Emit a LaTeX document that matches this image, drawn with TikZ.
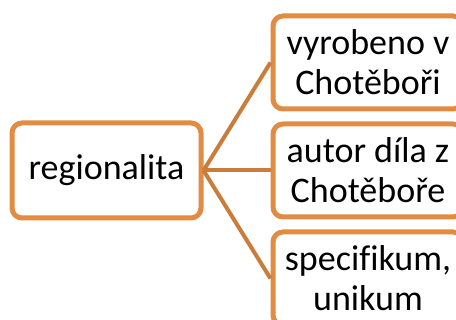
\documentclass[tikz,border=0pt]{standalone}
\usepackage{fontspec}
\setmainfont[Ligatures=NoCommon]{Carlito}
\usetikzlibrary{positioning}
\definecolor{boxorange}{RGB}{226,139,66}
\definecolor{lineorange}{RGB}{202,125,58}

\begin{document}
\begin{tikzpicture}[x=1pt,y=1pt,
    font=\fontsize{36}{40}\selectfont,
    box/.style={draw=boxorange,line width=5pt,rounded corners=10pt,fill=white,
                align=center,inner sep=0pt},
    leaf/.style={box,minimum width=190pt,minimum height=93pt}]
    \useasboundingbox (0,0) rectangle (456,-320);
    \node (reg) [box,minimum width=189pt,minimum height=95pt] at (106.5,-170.5) {regionalita};
    \node (aut) [leaf,right=67pt of reg] {autor díla z\\Chotěboře};
    \node (vyr) [leaf,above=10pt of aut] {vyrobeno v\\Chotěboři};% 15pt gap incl. lines
    \node (spec) [leaf,below=10pt of aut] {specifikum,\\unikum};
    \draw [lineorange,line width=4pt] (reg.east) -- (vyr.west);
    \draw [lineorange,line width=4pt] (reg.east) -- (aut.west);
    \draw [lineorange,line width=4pt] (reg.east) -- (spec.west);
\end{tikzpicture}
\end{document}
